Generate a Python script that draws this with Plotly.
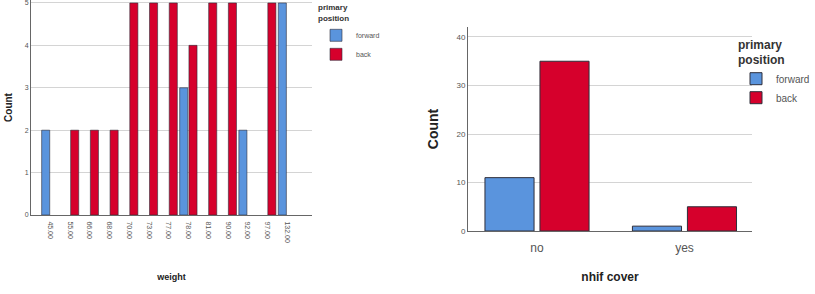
import plotly.graph_objects as go

# Left chart: weight (None = no bar drawn for that group)
weights = ["45.00", "55.00", "66.00", "68.00", "70.00", "73.00", "77.00",
           "78.00", "81.00", "90.00", "92.00", "97.00", "132.00"]
weight_forward = [2, None, None, None, None, None, None, 3, None, None, 2, None, 5]
weight_back = [None, 2, 2, 2, 5, 5, 5, 4, 5, 5, None, 5, None]

# Right chart: nhif cover
nhif = ["no", "yes"]
nhif_forward = [11, 1]
nhif_back = [35, 5]

BLUE = "#5a94dd"
RED = "#d6002c"
EDGE = "#2e2e3a"
W, H = 815, 294

def px_x(a, b):
    return [a / W, b / W]

def px_y(top, bottom):
    return [(H - bottom) / H, (H - top) / H]

fig = go.Figure()

lw = 0.41
fig.add_trace(go.Bar(x=weights, y=weight_forward, name="forward", marker_color=BLUE,
                     marker_line=dict(color=EDGE, width=0.6), width=lw, offset=-0.44,
                     xaxis="x", yaxis="y", legend="legend"))
fig.add_trace(go.Bar(x=weights, y=weight_back, name="back", marker_color=RED,
                     marker_line=dict(color=EDGE, width=0.6), width=lw, offset=0.03,
                     xaxis="x", yaxis="y", legend="legend"))

rw = 0.333
fig.add_trace(go.Bar(x=nhif, y=nhif_forward, name="forward", marker_color=BLUE,
                     marker_line=dict(color=EDGE, width=1), width=rw, offset=-0.353,
                     xaxis="x2", yaxis="y2", legend="legend2"))
fig.add_trace(go.Bar(x=nhif, y=nhif_back, name="back", marker_color=RED,
                     marker_line=dict(color=EDGE, width=1), width=rw, offset=0.02,
                     xaxis="x2", yaxis="y2", legend="legend2"))

tickfont_small = dict(family="Liberation Sans, Arial", size=7, color="#555")
fig.update_layout(
    width=W, height=H, margin=dict(l=0, r=0, t=0, b=0, autoexpand=False),
    paper_bgcolor="white", plot_bgcolor="white",
    barmode="group",
    font=dict(family="Liberation Sans, Arial", color="#333"),
    xaxis=dict(domain=px_x(31, 312), range=[-0.98, 13.27], tickangle=90, anchor="y",
               automargin=False, ticklabelstandoff=4,
               tickfont=tickfont_small, showline=True, linecolor="#666", linewidth=1,
               ticks="", showgrid=False,
               title=dict(text="<b>weight</b>", font=dict(size=9, color="#222"), standoff=31)),
    yaxis=dict(domain=px_y(0, 215), range=[0, 5.07], dtick=1, anchor="x",
               automargin=False, ticklabeloverflow="allow",
               tickfont=tickfont_small, showline=True, linecolor="#666", linewidth=1,
               gridcolor="#d4d4d4", gridwidth=1, zeroline=False, ticks="",
               title=dict(text="<b>Count</b>", font=dict(size=10, color="#222"), standoff=10)),
    xaxis2=dict(domain=px_x(468, 752), range=[-0.468, 1.458], anchor="y2",
                automargin=False, ticklabelstandoff=6,
                tickfont=dict(size=12, color="#555"), showline=True, linecolor="#666",
                linewidth=1, ticks="", showgrid=False,
                title=dict(text="<b>nhif cover</b>", font=dict(size=12, color="#222"), standoff=18)),
    yaxis2=dict(domain=px_y(27, 231), range=[0, 42.06], dtick=10, anchor="x2",
                automargin=False,
                tickfont=dict(size=8, color="#555"), showline=True, linecolor="#666",
                linewidth=1, gridcolor="#d4d4d4", gridwidth=1, zeroline=False, ticks="",
                title=dict(text="<b>Count</b>", font=dict(size=14, color="#222"), standoff=14)),
    legend=dict(x=316 / W, y=1.0, xanchor="left", yanchor="top",
                title=dict(text="<b>primary<br>position</b>", font=dict(size=8, color="#333")),
                font=dict(size=7, color="#555"), bgcolor="rgba(0,0,0,0)",
                itemwidth=30, tracegroupgap=0),
    legend2=dict(x=1.0, y=1 - 33 / H, xanchor="right", yanchor="top",
                 title=dict(text="<b>primary<br>position</b>", font=dict(size=12, color="#333")),
                 font=dict(size=10, color="#555"), bgcolor="rgba(0,0,0,0)",
                 itemwidth=30, tracegroupgap=0),
)

fig.write_html("out.html")
